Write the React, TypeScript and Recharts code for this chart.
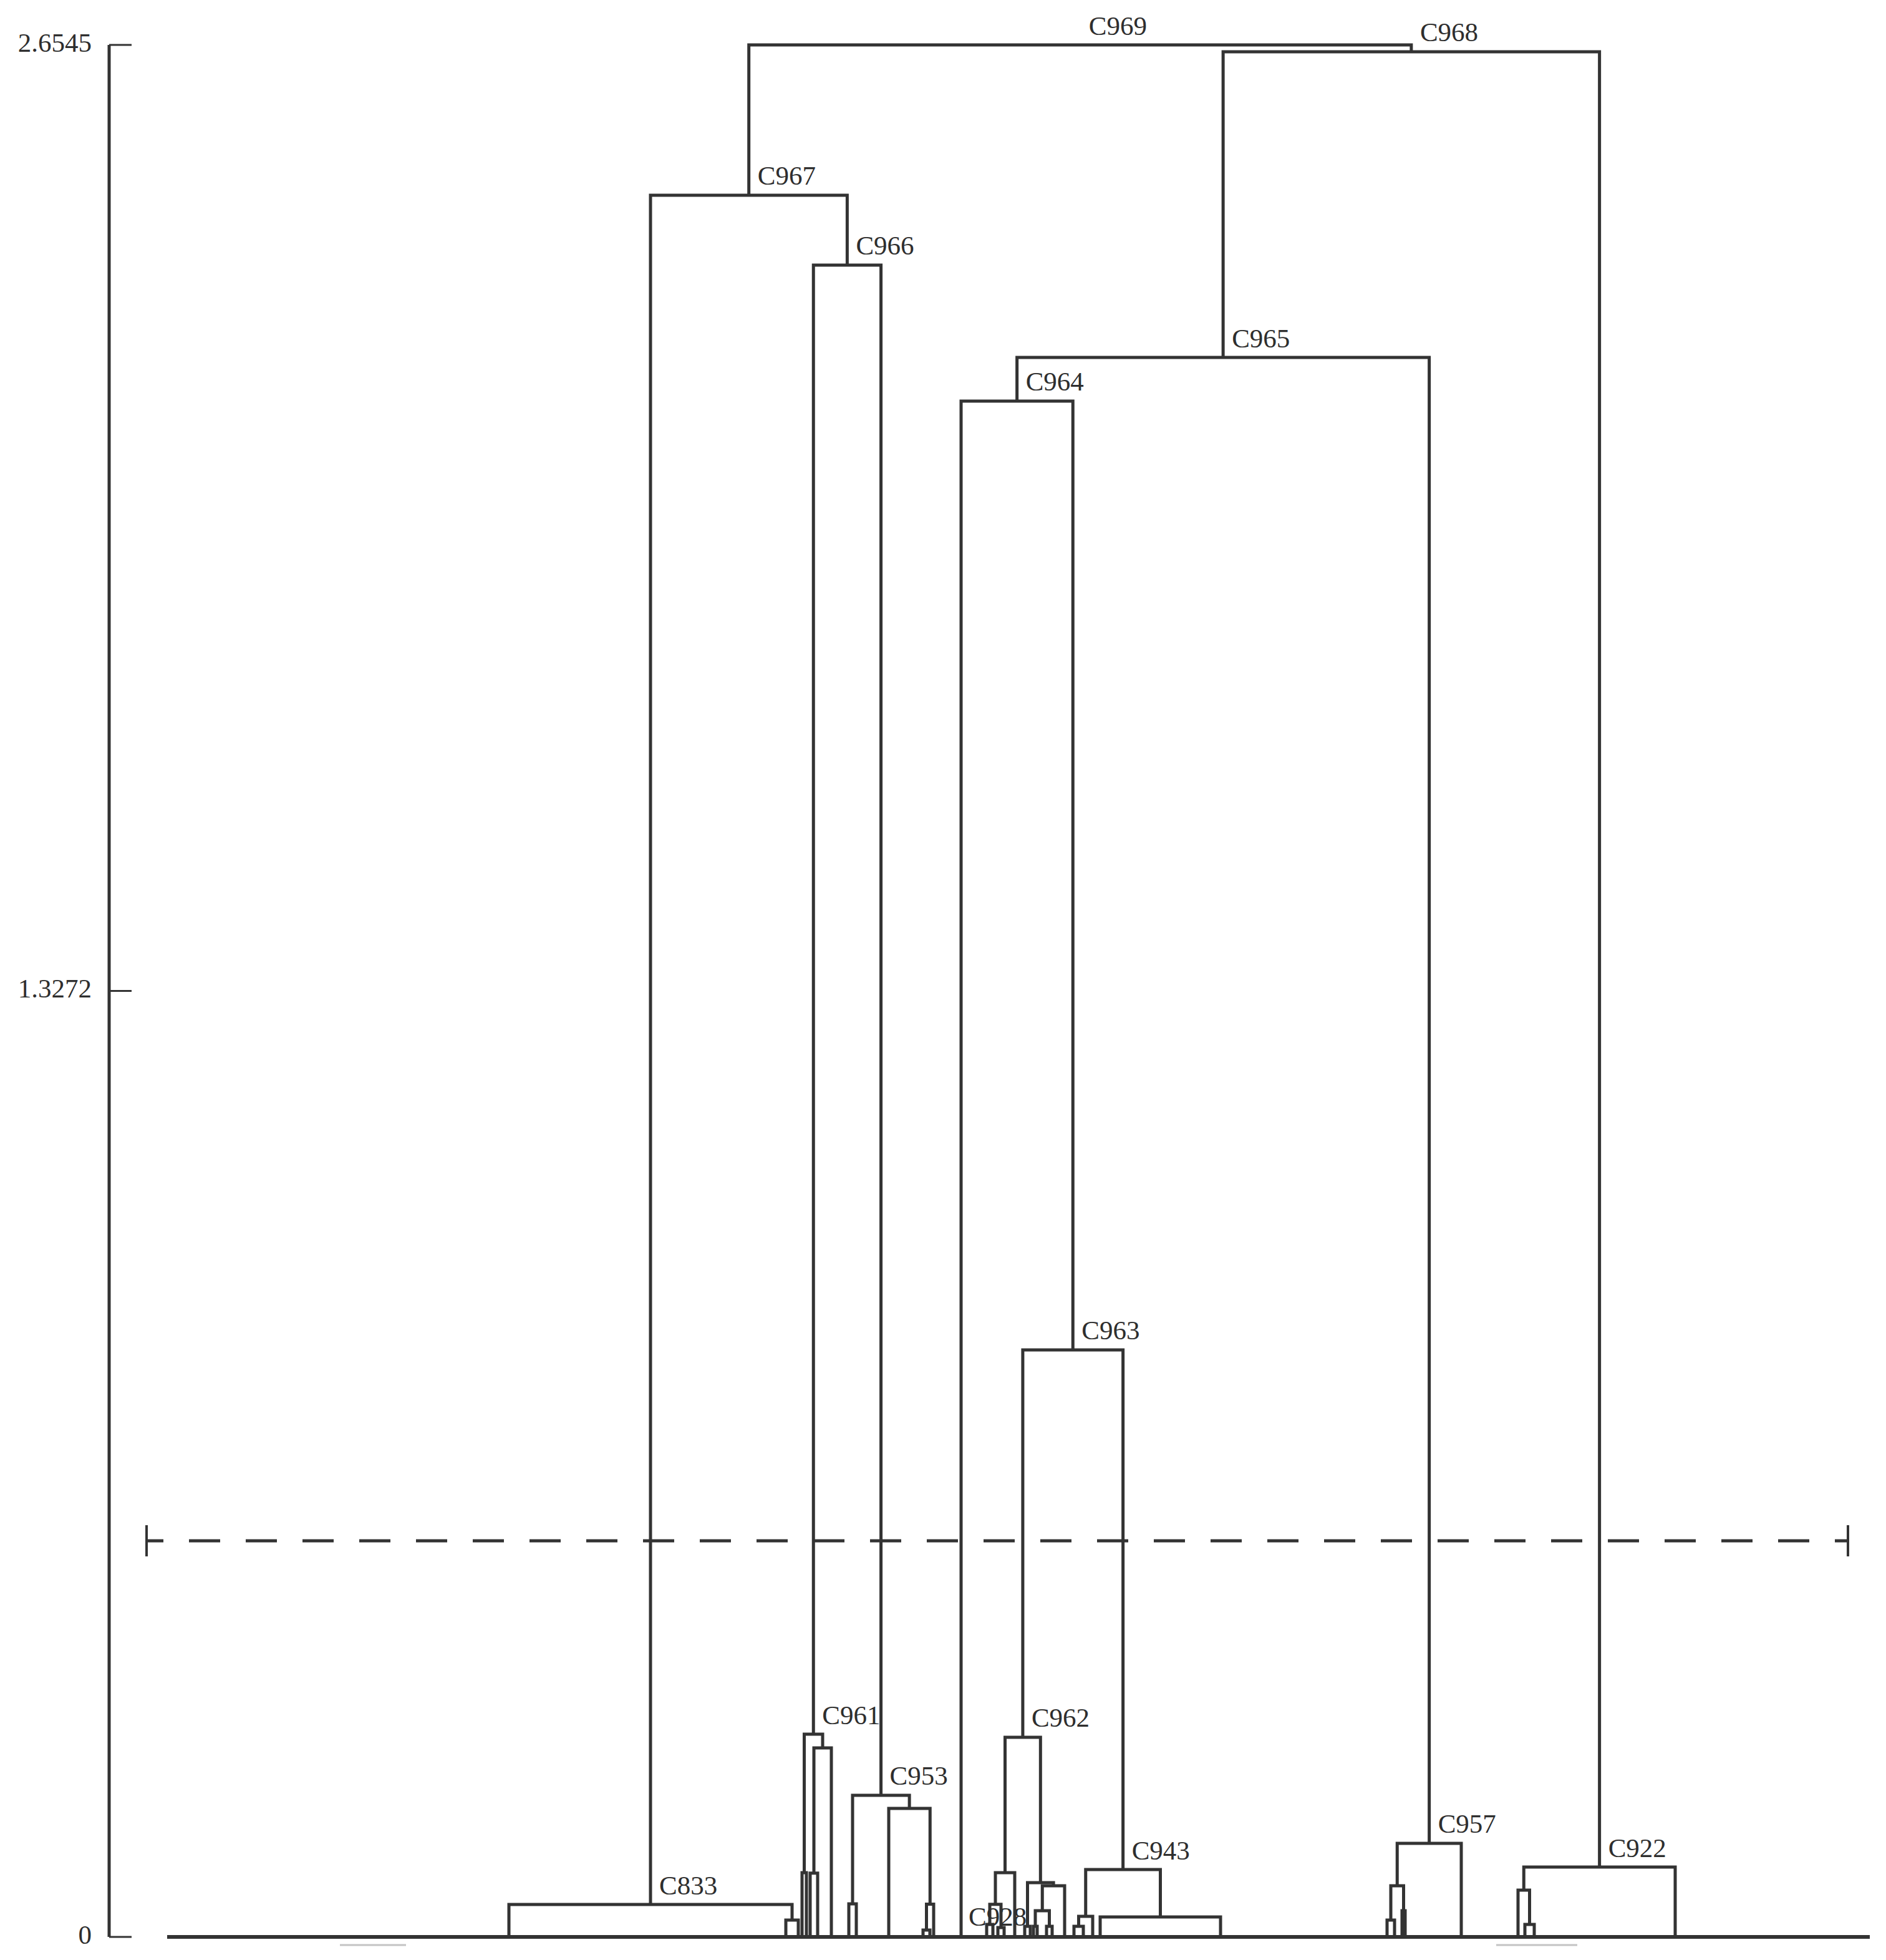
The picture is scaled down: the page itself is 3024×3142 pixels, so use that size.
import { ComposedChart, Line, XAxis, YAxis, ReferenceLine, ReferenceDot } from "recharts";

// ─── DATA ────────────────────────────────────────────────────────────

// leaves, in drawing order, with their slot along the leaf axis
const leafIds = [
  "l01", "l02", "l03", "l04", "l05", "l06", "l07", "l08", "l09", "l10",
  "l11", "l12", "l13", "l14", "l15", "l16", "l17", "l18", "l19", "l20",
  "l21", "l22", "l23", "l24", "l25", "l26", "l27", "l28", "l29", "l30",
  "l31", "l32", "l33", "l34", "l35", "l36", "l37", "l38", "l39", "l40",
  "l41",
];
const leafPos = [
  548, 992, 1012, 1018, 1025, 1031, 1043, 1065, 1093, 1105,
  1157, 1212, 1223, 1229, 1273, 1314, 1324, 1332, 1342, 1359,
  1375, 1384, 1389, 1395, 1410, 1419, 1439, 1454, 1469, 1484,
  1496, 1689, 1956, 1968, 1980, 1985, 2075, 2166, 2177, 2192,
  2418,
];

// merges, children always listed before their parent
const mergeIds = [
  "n01", "C833", "n02", "n03", "n04", "C961", "n05", "n06", "n07", "n08",
  "C953", "C966", "C967", "n09", "n10", "C928", "n11", "n12", "n13", "n14",
  "n15", "n16", "n17", "C962", "n18", "n19", "n20", "C943", "C963", "C964",
  "n21", "n22", "n23", "C957", "C965", "n24", "n25", "C922", "C968", "C969",
];
const mergeHeights = [
  0.0236, 0.0455, 0.0901, 0.0895, 0.2652, 0.2844, 0.0464, 0.0096, 0.046, 0.1803,
  0.1987, 2.3456, 2.4436, 0.0175, 0.0131, 0.0458, 0.0901, 0.0149, 0.0149, 0.0149,
  0.0368, 0.0718, 0.0761, 0.2801, 0.0149, 0.0289, 0.028, 0.0945, 0.8236, 2.1548,
  0.0236, 0.0368, 0.0718, 0.1313, 2.216, 0.0175, 0.0656, 0.098, 2.6449, 2.6545,
];
const mergeLeft = [
  "l02", "l01", "l04", "l06", "n03", "n02", "l09", "l12", "n06", "l11",
  "n05", "C961", "C833", "l16", "l18", "n09", "C928", "l21", "l23", "l25",
  "n13", "n15", "n12", "n11", "l28", "n18", "l31", "n19", "C962", "l15",
  "l33", "l35", "n21", "n23", "C964", "l39", "l38", "n25", "C965", "C967",
];
const mergeRight = [
  "l03", "n01", "l05", "l07", "l08", "n04", "l10", "l13", "l14", "n07",
  "n08", "C953", "C966", "l17", "l19", "n10", "l20", "l22", "l24", "l26",
  "n14", "l27", "n16", "n17", "l29", "l30", "l32", "n20", "C943", "C963",
  "l34", "l36", "n22", "l37", "C957", "l40", "n24", "l41", "C922", "C968",
];

const labelledMerges = [
  "C969", "C968", "C967", "C966", "C965", "C964", "C963", "C962",
  "C961", "C953", "C943", "C957", "C922", "C833", "C928",
];

const yTicks = [0, 1.3272, 2.6545];
const yTickLabels = ["0", "1.3272", "2.6545"];

const cutHeight = 0.5558;
const leafSpan = [0, 2730];
const cutSpan = [-33, 2695];

// ─── STYLE ───────────────────────────────────────────────────────────

const INK = "#333";
const TEXT = "#2e2e2e";
const FONT = "'Liberation Serif', 'DejaVu Serif', serif";
const W = 3024;
const H = 3142;
const Y_PER_PX = 2.6545 / 3033;
const LABEL_DX = 14;
const LABEL_DY = -31;
// C928 is written to the left, under its own link
const labelShift: Record<string, [number, number]> = { C928: [-43, 20] };

// ─── BUILD THE LINKS ─────────────────────────────────────────────────

type Pt = { x: number; h: number };
const nodes: Record<string, Pt> = {};
leafIds.forEach((id, i) => {
  nodes[id] = { x: leafPos[i], h: 0 };
});

const links = mergeIds.map((id, i) => {
  const l = nodes[mergeLeft[i]];
  const r = nodes[mergeRight[i]];
  const h = mergeHeights[i];
  nodes[id] = { x: (l.x + r.x) / 2, h };
  return {
    id,
    data: [
      { x: l.x, y: l.h },
      { x: l.x, y: h },
      { x: r.x, y: h },
      { x: r.x, y: r.h },
    ],
  };
});

const AxisTick = (props: any) => {
  const { x, y, index } = props;
  return (
    <g>
      <line x1={x} y1={y} x2={x + 36} y2={y} stroke={INK} strokeWidth={3} />
      <text
        x={x - 28}
        y={y - 4}
        textAnchor="end"
        dominantBaseline="central"
        fontFamily={FONT}
        fontSize={43}
        fill={TEXT}
      >
        {yTickLabels[index]}
      </text>
    </g>
  );
};

// ─── COMPONENT ───────────────────────────────────────────────────────

export default function App() {
  const capH = 25 * Y_PER_PX;

  return (
    <div style={{ position: "absolute", left: 0, top: 0, width: W, height: H, background: "#fff" }}>
      <ComposedChart
        width={W}
        height={H}
        margin={{ top: 72, right: 24, bottom: 37, left: 0 }}
      >
        <XAxis
          type="number"
          dataKey="x"
          domain={[-93, 2732]}
          allowDataOverflow
          hide
        />
        <YAxis
          type="number"
          dataKey="y"
          width={175}
          domain={[0, 2.6545]}
          ticks={yTicks}
          interval={0}
          tickSize={0}
          tickMargin={0}
          tickLine={false}
          axisLine={{ stroke: INK, strokeWidth: 5 }}
          tick={<AxisTick />}
        />

        {/* leaf baseline */}
        <ReferenceLine
          segment={[
            { x: leafSpan[0], y: 0 },
            { x: leafSpan[1], y: 0 },
          ]}
          stroke={INK}
          strokeWidth={6}
          ifOverflow="visible"
        />

        {/* faint marks under the baseline */}
        <ReferenceLine
          segment={[
            { x: 277, y: -13 * Y_PER_PX },
            { x: 383, y: -13 * Y_PER_PX },
          ]}
          stroke="#c4c4c4"
          strokeWidth={3}
          ifOverflow="visible"
        />
        <ReferenceLine
          segment={[
            { x: 2131, y: -13 * Y_PER_PX },
            { x: 2261, y: -13 * Y_PER_PX },
          ]}
          stroke="#c4c4c4"
          strokeWidth={3}
          ifOverflow="visible"
        />

        {/* cut line */}
        <ReferenceLine
          segment={[
            { x: cutSpan[0], y: cutHeight },
            { x: cutSpan[1], y: cutHeight },
          ]}
          stroke={INK}
          strokeWidth={5}
          strokeDasharray="50 41"
          strokeDashoffset={23}
          ifOverflow="visible"
        />
        {cutSpan.map((cx) => (
          <ReferenceLine
            key={cx}
            segment={[
              { x: cx, y: cutHeight - capH },
              { x: cx, y: cutHeight + capH },
            ]}
            stroke={INK}
            strokeWidth={4}
            ifOverflow="visible"
          />
        ))}

        {links.map((lk) => (
          <Line
            key={lk.id}
            data={lk.data}
            dataKey="y"
            type="linear"
            stroke={INK}
            strokeWidth={5}
            strokeLinejoin="miter"
            dot={false}
            activeDot={false}
            isAnimationActive={false}
          />
        ))}

        {labelledMerges.map((name) => {
          const n = nodes[name];
          const [dx, dy] = labelShift[name] ?? [LABEL_DX, LABEL_DY];
          return (
            <ReferenceDot
              key={name}
              x={n.x}
              y={n.h}
              r={0}
              ifOverflow="visible"
              shape={(p: any) => (
                <text
                  x={p.cx + dx}
                  y={p.cy + dy}
                  dominantBaseline="central"
                  fontFamily={FONT}
                  fontSize={43}
                  fill={TEXT}
                >
                  {name}
                </text>
              )}
            />
          );
        })}
      </ComposedChart>
    </div>
  );
}
